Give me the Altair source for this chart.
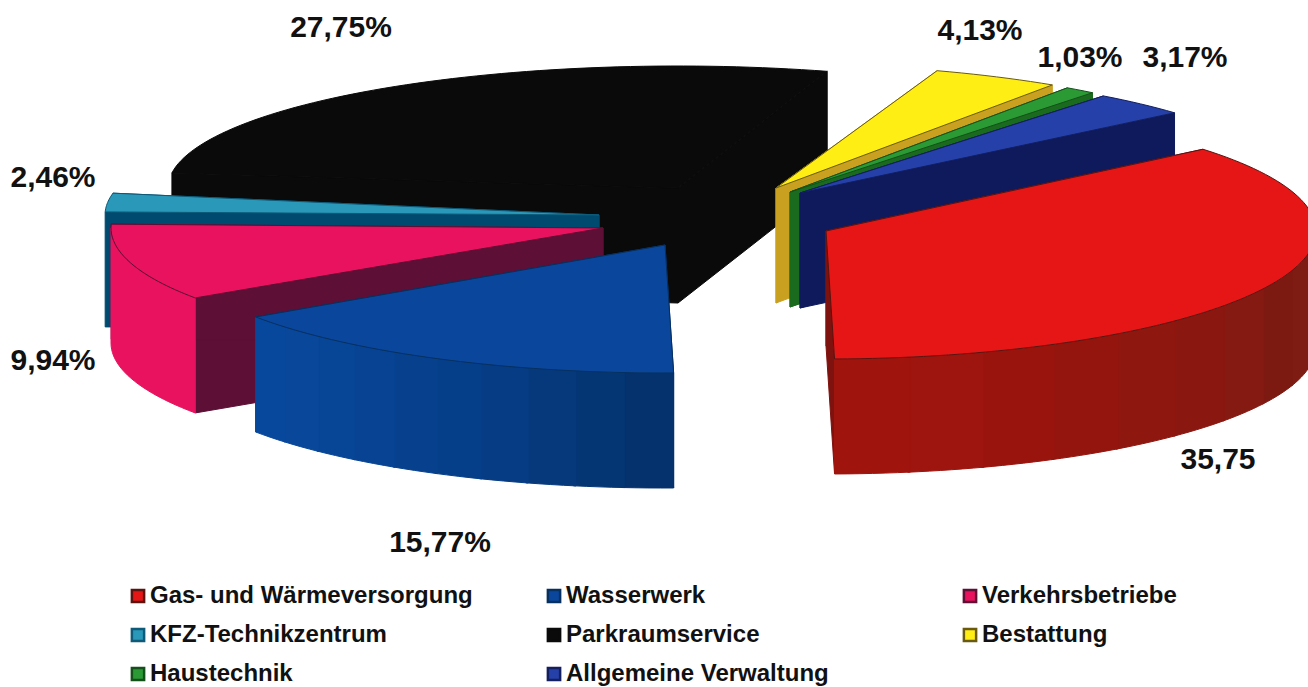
import math
import altair as alt
import pandas as pd

# Chart values
names = ["Gas- und Wärmeversorgung", "Wasserwerk", "Verkehrsbetriebe", "KFZ-Technikzentrum",
         "Parkraumservice", "Bestattung", "Haustechnik", "Allgemeine Verwaltung"]
shares = [35.75, 15.77, 9.94, 2.46, 27.75, 4.13, 1.03, 3.17]
label_texts = ["35,75", "15,77%", "9,94%", "2,46%", "27,75%", "4,13%", "1,03%", "3,17%"]
top_colors = ["#e61616", "#0a479c", "#e8125f", "#2a98b8", "#0a0a0a", "#ffee14", "#2b9a35", "#2540a8"]
edge_colors = ["#5a1410", "#06305f", "#5e0f35", "#0e5a78", "#0a0a0a", "#6a5a10", "#14501a", "#141f60"]
face_colors = ["#7e120e", "#06346f", "#5e0f35", "#004a70", "#0a0a0a", "#c9a020", "#1a6b1d", "#0e1a5c"]
rim_shades = [
    ["#7e1e15", "#7e1c14", "#7c1a12", "#841a11", "#8a1810", "#8e170f", "#94150e", "#9a140e", "#9e140e", "#a0140e"],
    ["#05326c", "#053674", "#06397c", "#063c83", "#063f89", "#07418e", "#074392", "#074596", "#084799", "#08489c"],
    ["#e8125f"],
    ["#004a70"],
    ["#0a0a0a"],
    ["#c9a020"],
    ["#1a6b1d"],
    ["#0e1a5c"],
]

# Exploded 3D pie layout, one entry per slice, in drawing units
apex = [(826, 231), (665, 245), (603, 228), (599, 215), (678, 188), (776, 188), (790, 192), (800, 193)]
radius_x = [490, 495, 492, 494, 510, 497, 485, 494]
radius_y = [128, 128, 125, 122, 122, 124, 127, 123]
rotation = [3.3, 3.3, 3.5, 3.2, 0.0, 1.9, 3.0, 2.3]
depth = 115
first_angle = 47.0
label_xy = [(1218, 460), (440, 543), (53, 361), (53, 178), (341, 28), (980, 31), (1080, 58), (1185, 58)]
back_to_front = [4, 5, 6, 7, 3, 2, 1, 0]
# The legend fills column by column, so this order reads row by row on screen
legend_order = [0, 3, 6, 1, 4, 7, 2, 5]

tone_domain, tone_fill, tone_stroke = [], [], []


def add_tone(name, fill, stroke):
    if name not in tone_domain:
        tone_domain.append(name)
        tone_fill.append(fill)
        tone_stroke.append(stroke)


rows = []
poly_id = 0


def add_polygon(points, tone):
    global poly_id
    pts = points + [points[0]]
    for i, (x, y) in enumerate(pts):
        rows.append({"x": x, "y": y, "i": i, "poly": poly_id, "tone": tone})
    poly_id += 1


def rim_point(s, angle):
    a = math.radians(angle)
    return (apex[s][0] + radius_x[s] * math.sin(a), apex[s][1] - radius_y[s] * math.cos(a))


def arc(s, a0, a1, drop=0):
    n = max(2, int(abs(a1 - a0) / 1.5) + 1)
    out = []
    for k in range(n + 1):
        x, y = rim_point(s, a0 + (a1 - a0) * k / n)
        out.append((x, y + drop))
    return out


starts, cumulative = [], first_angle
for v in shares:
    starts.append(cumulative)
    cumulative += v * 3.6

for n, c, e in zip(names, top_colors, edge_colors):
    add_tone(n, c, e)

for s in back_to_front:
    a0 = starts[s] + rotation[s]
    a1 = a0 + shares[s] * 3.6
    ax, ay = apex[s]

    # Cut faces between the centre and the rim
    face_tone = f"face-{s}"
    add_tone(face_tone, face_colors[s], face_colors[s])
    for ang in (a0, a1):
        px, py = rim_point(s, ang)
        add_polygon([(ax, ay), (px, py), (px, py + depth), (ax, ay + depth)], face_tone)

    # The outer wall faces the viewer between 90 and 270 degrees
    lo = max(a0, 90)
    hi = min(a1, 270)
    if a0 < 270 and hi > lo:
        bands = rim_shades[s]
        for b, shade in enumerate(bands):
            b0 = lo + (hi - lo) * b / len(bands)
            b1 = lo + (hi - lo) * (b + 1) / len(bands) + (0.3 if b < len(bands) - 1 else 0)
            tone = f"rim-{s}-{b}"
            add_tone(tone, shade, shade)
            add_polygon(arc(s, b0, b1) + arc(s, b1, b0, depth), tone)

    # Top face
    add_polygon([(ax, ay)] + arc(s, a0, a1), names[s])

polygons = pd.DataFrame(rows)
labels = pd.DataFrame({
    "x": [p[0] for p in label_xy],
    "y": [p[1] for p in label_xy],
    "text": label_texts,
})

x_scale = alt.Scale(domain=[0, 1308], nice=False, zero=False)
y_scale = alt.Scale(domain=[687, 0], nice=False, zero=False)

slices = alt.Chart(polygons).mark_line(strokeWidth=1, clip=True, strokeJoin="round").encode(
    x=alt.X("x:Q", scale=x_scale, axis=None),
    y=alt.Y("y:Q", scale=y_scale, axis=None),
    order=alt.Order("i:Q"),
    detail="poly:N",
    fill=alt.Fill(
        "tone:N",
        scale=alt.Scale(domain=tone_domain, range=tone_fill),
        legend=alt.Legend(
            values=[names[k] for k in legend_order],
            title=None,
            orient="none",
            legendX=126,
            legendY=584,
            columns=3,
            gridAlign="all",
            columnPadding=69,
            rowPadding=15,
            symbolType="square",
            symbolSize=150,
            symbolStrokeColor="#1a1a1a",
            symbolStrokeWidth=2.5,
            symbolOpacity=1,
            labelFont="Liberation Sans",
            labelFontWeight="bold",
            labelFontSize=24,
            labelColor="#111111",
            labelLimit=400,
            labelOffset=0,
        ),
    ),
    stroke=alt.Stroke(
        "tone:N",
        scale=alt.Scale(domain=tone_domain, range=tone_stroke),
        legend=None,
    ),
)

value_labels = alt.Chart(labels).mark_text(
    font="Liberation Sans", fontWeight="bold", fontSize=30, color="#111111",
    align="center", baseline="middle",
).encode(
    x=alt.X("x:Q", scale=x_scale, axis=None),
    y=alt.Y("y:Q", scale=y_scale, axis=None),
    text="text:N",
)

chart = alt.layer(slices, value_labels).properties(
    width=1308,
    height=687,
    padding=0,
    autosize=alt.AutoSizeParams(type="none"),
    background="white",
).configure_view(stroke=None)

chart.save("out.html", embed_options={"renderer": "svg", "actions": False})
